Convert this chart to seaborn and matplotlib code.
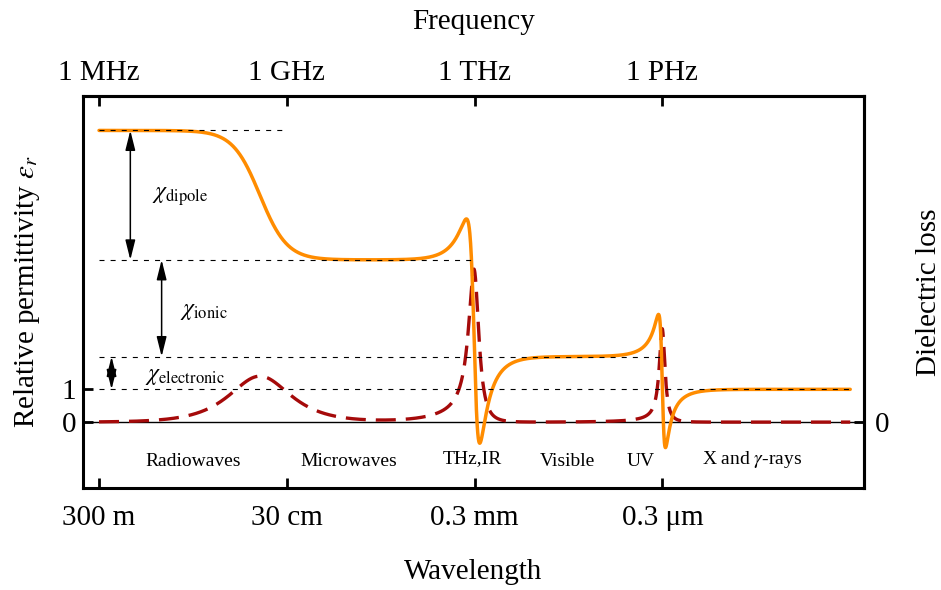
import numpy as np
import pandas as pd
import matplotlib
matplotlib.use("Agg")
import matplotlib.pyplot as plt
import seaborn as sns

# Levels of the real permittivity
eps_levels = [8.9, 4.95, 2.0, 1.0]          # static, after dipole, after ionic, optical limit
level_ends = [9, 12, 15, 18]                # log10(f) where each guide line stops

# Dispersion mechanisms (log10 of centre frequency, quality factor)
dipole_logf = 8.57
ionic_logf, ionic_q = 12.0, 2.2
electronic_logf, electronic_q = 15.0, 4.0
loss_scale = 0.71

# axis ticks
freq_ticks = [6, 9, 12, 15]
freq_labels = ["1 MHz", "1 GHz", "1 THz", "1 PHz"]
wave_labels = ["300 m", "30 cm", "0.3 mm", "0.3 \u03bcm"]

# band names and their label positions
bands = ["Radiowaves", "Microwaves", "THz,IR", "Visible", "UV", "X and $\\gamma$-rays"]
band_x = [7.51, 9.99, 11.97, 13.49, 14.66, 16.43]
band_y = [-1.21, -1.21, -1.12, -1.21, -1.21, -1.15]

# susceptibility labels
chi_names = ["dipole", "ionic", "electronic"]
chi_arrow_x = [6.5, 7.0, 6.2]
chi_text_x = [6.85, 7.29, 6.73]
chi_text_y = [6.87, 3.36, 1.38]

# build the permittivity spectrum from the mechanisms above
logf = np.linspace(6, 18, 4000)
f = 10 ** logf
d_dip = eps_levels[0] - eps_levels[1]
d_ion = eps_levels[1] - eps_levels[2]
d_el = eps_levels[2] - eps_levels[3]
fd, fi, fe = 10 ** dipole_logf, 10 ** ionic_logf, 10 ** electronic_logf
eps = (eps_levels[3]
       + d_dip / (1 - 1j * f / fd)
       + d_ion * fi**2 / (fi**2 - f**2 - 1j * f * fi / ionic_q)
       + d_el * fe**2 / (fe**2 - f**2 - 1j * f * fe / electronic_q))
df = pd.DataFrame({"logf": logf, "real": eps.real, "loss": eps.imag * loss_scale})

sns.set_style("ticks")
plt.rcParams["font.family"] = ["Liberation Serif", "DejaVu Serif"]
plt.rcParams["mathtext.fontset"] = "stix"
for key in ["text.color", "axes.labelcolor", "xtick.color", "ytick.color", "axes.edgecolor"]:
    plt.rcParams[key] = "black"

fig = plt.figure(figsize=(9.41, 5.90), dpi=100)
ax = fig.add_axes([83 / 941, 1 - 488.3 / 590, (864 - 83) / 941, (488.3 - 95.7) / 590])

ax.axhline(0, color="black", lw=1.0, zorder=1)
sns.lineplot(data=df, x="logf", y="loss", ax=ax, color="#a50a0a", lw=2.4, zorder=3)
ax.lines[-1].set_dashes((6, 3))
sns.lineplot(data=df, x="logf", y="real", ax=ax, color="#ff8c00", lw=2.5, zorder=4)

# dotted guide lines for the plateaus
for lev, end in zip(eps_levels, level_ends):
    ax.plot([6, end], [lev, lev], color="black", lw=0.8, ls=(0, (4.5, 5.5)), zorder=5)

# double arrows for the susceptibilities
for i, name in enumerate(chi_names):
    ax.annotate("", xy=(chi_arrow_x[i], eps_levels[i + 1]), xytext=(chi_arrow_x[i], eps_levels[i]),
                arrowprops=dict(arrowstyle="<|-|>,head_length=0.8,head_width=0.2", color="black",
                                lw=1.1, mutation_scale=15, shrinkA=0, shrinkB=0), zorder=6)
    ax.text(chi_text_x[i], chi_text_y[i], "$\\chi_{\\rm %s}$" % name, fontsize=17,
            ha="left", va="center")

for name, bx, by in zip(bands, band_x, band_y):
    ax.text(bx, by, name, fontsize=14, ha="center", va="center")

ax.set_xlim(5.744, 18.22)
ax.set_ylim(-2.02, 9.96)
ax.set_xticks(freq_ticks)
ax.set_xticklabels(wave_labels)
ax.set_yticks([0, 1])
ax.set_yticklabels(["0", "1"])
ax.set_xlabel("Wavelength", fontsize=21, labelpad=20)
ax.set_ylabel("Relative permittivity $\\varepsilon_r$", fontsize=21, labelpad=14)
ax.tick_params(direction="in", length=7, width=2, labelsize=21, pad=12)
ax.tick_params(axis="y", pad=5)
for sp in ax.spines.values():
    sp.set_linewidth(2.2)

top = ax.secondary_xaxis("top")
top.set_xticks(freq_ticks)
top.set_xticklabels(freq_labels)
top.set_xlabel("Frequency", fontsize=21, labelpad=22)
top.tick_params(direction="in", length=7, width=2, labelsize=21, pad=7)
top.spines["top"].set_linewidth(2.2)

right = ax.secondary_yaxis("right")
right.set_yticks([0])
right.set_yticklabels(["0"])
right.set_ylabel("Dielectric loss", fontsize=21, labelpad=19)
right.tick_params(direction="in", length=7, width=2, labelsize=21, pad=8)
right.spines["right"].set_linewidth(2.2)

fig.savefig("out.png", dpi=100)
